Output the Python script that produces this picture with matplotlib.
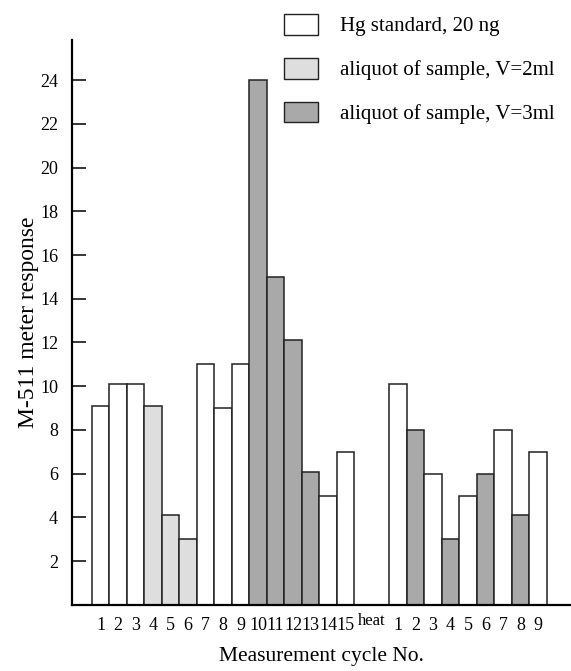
import matplotlib.pyplot as plt
import matplotlib.transforms as mtransforms
from matplotlib.patches import Patch

# данные: первая серия измерений (1-15), затем после прогрева (1-9)
series1_labels = [str(i) for i in range(1, 16)]
series1_values = [9.1, 10.1, 10.1, 9.1, 4.1, 3.0, 11.0, 9.0, 11.0, 24.0, 15.0, 12.1, 6.1, 5.0, 7.0]
series1_kind = ['std', 'std', 'std', 'v2', 'v2', 'v2', 'std', 'std', 'std',
                'v3', 'v3', 'v3', 'v3', 'std', 'std']

series2_labels = [str(i) for i in range(1, 10)]
series2_values = [10.1, 8.0, 6.0, 3.0, 5.0, 6.0, 8.0, 4.1, 7.0]
series2_kind = ['std', 'v3', 'std', 'v3', 'std', 'v3', 'std', 'v3', 'std']

y_ticks = [2, 4, 6, 8, 10, 12, 14, 16, 18, 20, 22, 24]

colors = {'std': 'white', 'v2': '#dedede', 'v3': '#a9a9a9'}
names = {'std': 'Hg standard, 20 ng',
         'v2': 'aliquot of sample, V=2ml',
         'v3': 'aliquot of sample, V=3ml'}

plt.rcParams['font.family'] = ['Liberation Serif', 'DejaVu Serif']

fig = plt.figure(figsize=(5.71, 6.71), dpi=100)
ax = fig.add_axes([0.1261, 0.0984, 0.8722, 0.8420])

# позиции столбцов: пропуск из двух мест под "heat"
x1 = list(range(len(series1_values)))
x2 = [len(series1_values) + 2 + i for i in range(len(series2_values))]
heat_pos = len(series1_values) + 0.5

ax.bar(x1, series1_values, width=1.0, color=[colors[k] for k in series1_kind],
       edgecolor='#222222', linewidth=1.1)
ax.bar(x2, series2_values, width=1.0, color=[colors[k] for k in series2_kind],
       edgecolor='#222222', linewidth=1.1)

ax.set_xlim(-1.63, 26.83)
ax.set_ylim(0, 25.83)

ax.spines['top'].set_visible(False)
ax.spines['right'].set_visible(False)
ax.spines['left'].set_linewidth(1.6)
ax.spines['bottom'].set_linewidth(1.6)

ax.set_yticks(y_ticks)
ax.tick_params(axis='y', direction='in', length=10, width=1.1, labelsize=13, pad=10)

ax.set_xticks(x1 + [heat_pos] + x2)
ax.set_xticklabels(series1_labels + ['heat'] + series2_labels)
ax.tick_params(axis='x', length=0, labelsize=13, pad=9)
for lab in ax.get_xticklabels():
    if lab.get_text() == 'heat':
        lab.set_fontsize(12)
        lab.set_transform(lab.get_transform() +
                          mtransforms.ScaledTranslation(0, 3 / 72, fig.dpi_scale_trans))

ax.set_xlabel('Measurement cycle No.', fontsize=15.5, labelpad=9)
ax.set_ylabel('M-511 meter response', fontsize=17, labelpad=1)

handles = [Patch(facecolor=colors[k], edgecolor='#222222', linewidth=1.0, label=names[k])
           for k in ['std', 'v2', 'v3']]
ax.legend(handles=handles, loc='upper left', bbox_to_anchor=(284 / 571, 1 - 14 / 671),
          bbox_transform=fig.transFigure, frameon=False, fontsize=15,
          handlelength=1.65, handleheight=1.15, handletextpad=1.05,
          labelspacing=1.03, borderpad=0, borderaxespad=0)

fig.savefig('out.png', dpi=100)
